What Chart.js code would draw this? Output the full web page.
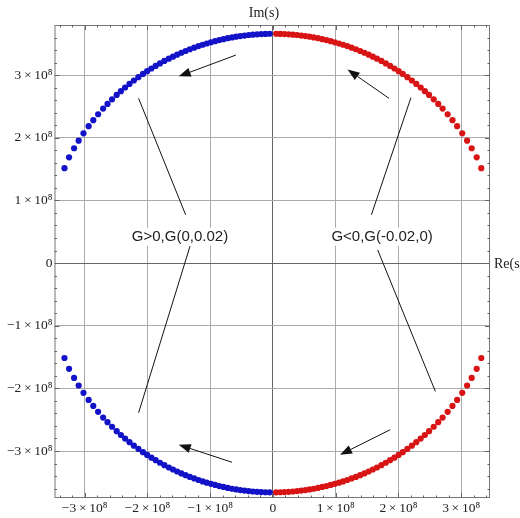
<!DOCTYPE html>
<html lang="en">
<head>
<meta charset="UTF-8">
<title>Root locus - Re(s) / Im(s)</title>
<style>
  html, body { margin: 0; padding: 0; background: #fff; overflow: hidden; }
</style>
<script src="https://cdn.jsdelivr.net/npm/chart.js"></script>
</head>
<body>
<canvas id="locus" width="520" height="518"></canvas>
<script>
// all values in units of 1e8
// upper right branch (red); the other three branches are its mirror images
const reArc = [0.051, 0.118, 0.185, 0.252, 0.319, 0.386, 0.452, 0.519, 0.585, 0.651,
  0.719, 0.787, 0.854, 0.921, 0.987, 1.054, 1.119, 1.185, 1.254, 1.323,
  1.391, 1.459, 1.526, 1.592, 1.658, 1.729, 1.799, 1.868, 1.936, 2.004,
  2.070, 2.143, 2.215, 2.285, 2.355, 2.422, 2.489, 2.563, 2.635, 2.705,
  2.785, 2.862, 2.936, 3.018, 3.095, 3.168, 3.248, 3.321];
const imArc = [3.660, 3.658, 3.655, 3.651, 3.646, 3.640, 3.632, 3.623, 3.613, 3.602,
  3.589, 3.574, 3.559, 3.542, 3.524, 3.505, 3.485, 3.463, 3.438, 3.413,
  3.385, 3.357, 3.327, 3.295, 3.263, 3.226, 3.187, 3.147, 3.106, 3.063,
  3.019, 2.967, 2.914, 2.859, 2.802, 2.744, 2.684, 2.613, 2.540, 2.466,
  2.375, 2.281, 2.185, 2.071, 1.954, 1.833, 1.688, 1.515];

const tickVals = [-3, -2, -1, 0, 1, 2, 3];
const tickNames = ['\u22123\u2009\u00d7\u200910\u2078', '\u22122\u2009\u00d7\u200910\u2078', '\u22121\u2009\u00d7\u200910\u2078', '0',
  '1\u2009\u00d7\u200910\u2078', '2\u2009\u00d7\u200910\u2078', '3\u2009\u00d7\u200910\u2078'];

// annotations (data units)
const noteText = ['G>0,G(0,0.02)', 'G<0,G(-0.02,0)'];
const notePos = [[-1.48, 0.42], [1.74, 0.42]];
const noteLines = [
  [-2.14, 2.63, -1.39, 0.77], [-1.32, 0.27, -2.14, -2.39],
  [2.20, 2.64, 1.57, 0.77], [1.67, 0.21, 2.59, -2.05]
];
const arrows = [  // tail x, tail y, head x, head y
  [-0.59, 3.32, -1.50, 2.98], [1.85, 2.63, 1.19, 3.09],
  [-0.65, -3.18, -1.50, -2.90], [1.87, -2.66, 1.07, -3.06]
];

const pts = (sx, sy) => reArc.map((x, i) => ({ x: sx * x, y: sy * imArc[i] }));

const serif = '"Liberation Serif", "DejaVu Serif", serif';

const extras = {
  id: 'extras',
  beforeDatasetsDraw(chart) {
    const { ctx, chartArea: a, scales: { x, y } } = chart;
    ctx.save();
    // frame
    ctx.strokeStyle = '#777';
    ctx.lineWidth = 1;
    ctx.strokeRect(a.left + 0.5, a.top + 0.5, a.right - a.left - 1, a.bottom - a.top - 1);
    // ticks on the frame, major every 1, minor every 0.2
    ctx.strokeStyle = '#666';
    ctx.beginPath();
    for (let k = -18; k <= 18; k++) {
      const v = k / 5;
      const len = k % 5 === 0 ? 5 : 2.5;
      if (v > x.min && v < x.max) {
        const px = Math.round(x.getPixelForValue(v)) + 0.5;
        ctx.moveTo(px, a.bottom); ctx.lineTo(px, a.bottom - len);
        ctx.moveTo(px, a.top); ctx.lineTo(px, a.top + len);
      }
      if (v > y.min && v < y.max) {
        const py = Math.round(y.getPixelForValue(v)) + 0.5;
        ctx.moveTo(a.left, py); ctx.lineTo(a.left + len, py);
        ctx.moveTo(a.right, py); ctx.lineTo(a.right - len, py);
      }
    }
    ctx.stroke();
    // axis names
    ctx.fillStyle = '#222';
    ctx.font = '14px ' + serif;
    ctx.textAlign = 'center';
    ctx.textBaseline = 'middle';
    ctx.fillText('Im(s)', x.getPixelForValue(0) - 9, 13);
    ctx.textAlign = 'left';
    ctx.fillText('Re(s)', a.right + 4, y.getPixelForValue(0) + 1);
    ctx.restore();
  },
  afterDatasetsDraw(chart) {
    const { ctx, scales: { x, y } } = chart;
    ctx.save();
    ctx.strokeStyle = '#111';
    ctx.fillStyle = '#111';
    ctx.lineWidth = 1;
    noteLines.forEach(l => {
      ctx.beginPath();
      ctx.moveTo(x.getPixelForValue(l[0]), y.getPixelForValue(l[1]));
      ctx.lineTo(x.getPixelForValue(l[2]), y.getPixelForValue(l[3]));
      ctx.stroke();
    });
    arrows.forEach(r => {
      const x0 = x.getPixelForValue(r[0]), y0 = y.getPixelForValue(r[1]);
      const x1 = x.getPixelForValue(r[2]), y1 = y.getPixelForValue(r[3]);
      const ang = Math.atan2(y1 - y0, x1 - x0);
      const hl = 12, hw = 4.5;
      ctx.beginPath();
      ctx.moveTo(x0, y0);
      ctx.lineTo(x1 - hl * Math.cos(ang), y1 - hl * Math.sin(ang));
      ctx.stroke();
      ctx.beginPath();
      ctx.moveTo(x1, y1);
      ctx.lineTo(x1 - hl * Math.cos(ang) + hw * Math.sin(ang), y1 - hl * Math.sin(ang) - hw * Math.cos(ang));
      ctx.lineTo(x1 - hl * Math.cos(ang) - hw * Math.sin(ang), y1 - hl * Math.sin(ang) + hw * Math.cos(ang));
      ctx.closePath();
      ctx.fill();
    });
    ctx.font = '15px "Liberation Sans", Arial, sans-serif';
    ctx.textAlign = 'center';
    ctx.textBaseline = 'middle';
    noteText.forEach((t, i) => {
      const px = x.getPixelForValue(notePos[i][0]), py = y.getPixelForValue(notePos[i][1]);
      const w = ctx.measureText(t).width;
      ctx.fillStyle = '#fff';
      ctx.fillRect(px - w / 2 - 2, py - 9, w + 4, 18);
      ctx.fillStyle = '#222';
      ctx.fillText(t, px, py);
    });
    ctx.restore();
  }
};

const gridColor = c => c.tick && c.tick.value === 0 ? '#666' : '#aaa';

new Chart(document.getElementById('locus'), {
  type: 'scatter',
  data: {
    datasets: [
      { data: pts(1, 1), backgroundColor: '#d81414', borderWidth: 0, pointRadius: 3.1 },
      { data: pts(1, -1), backgroundColor: '#d81414', borderWidth: 0, pointRadius: 3.1 },
      { data: pts(-1, 1), backgroundColor: '#1212c8', borderWidth: 0, pointRadius: 3.1 },
      { data: pts(-1, -1), backgroundColor: '#1212c8', borderWidth: 0, pointRadius: 3.1 }
    ]
  },
  options: {
    responsive: false,
    animation: false,
    layout: { padding: { left: 0, top: 25, right: 30, bottom: 0 } },
    plugins: { legend: { display: false }, tooltip: { enabled: false } },
    scales: {
      x: {
        min: -3.48, max: 3.46,
        afterBuildTicks: s => { s.ticks = tickVals.map(v => ({ value: v })); },
        afterFit: s => { s.height = 20; },
        grid: { color: gridColor, drawTicks: false },
        border: { display: false },
        ticks: {
          padding: 2, maxRotation: 0, autoSkip: false,
          color: '#222', font: { family: serif, size: 13.5 },
          callback: v => tickNames[tickVals.indexOf(v)]
        }
      },
      y: {
        min: -3.75, max: 3.80,
        afterBuildTicks: s => { s.ticks = tickVals.map(v => ({ value: v })); },
        afterFit: s => { s.width = 54.5; },
        grid: { color: gridColor, drawTicks: false },
        border: { display: false },
        ticks: {
          padding: 2, autoSkip: false,
          color: '#222', font: { family: serif, size: 13.5 },
          callback: v => tickNames[tickVals.indexOf(v)]
        }
      }
    }
  },
  plugins: [extras]
});
</script>
</body>
</html>
